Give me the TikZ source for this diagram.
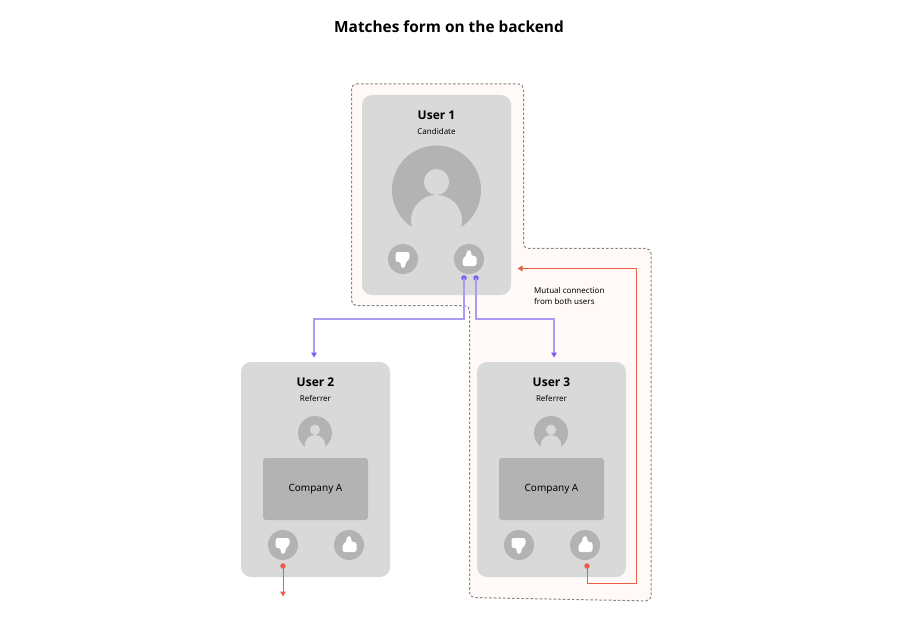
\documentclass[tikz,border=0pt]{standalone}
\usepackage{fontspec}
\setmainfont{Noto Sans}
\newfontfamily\semi{Open Sans}
\usetikzlibrary{arrows.meta}
\definecolor{cardc}{HTML}{D9D9D9}
\definecolor{darkc}{HTML}{B3B3B3}
\definecolor{bgc}{HTML}{FFFAF7}
\definecolor{dashc}{HTML}{8A8483}
\definecolor{purp}{HTML}{7B5CEE}
\definecolor{redc}{HTML}{E9604A}
\tikzset{
  x=1pt,y=-1pt,
  card/.style={draw=none,fill=cardc,rounded corners=10pt,minimum width=149pt,inner sep=0pt,outer sep=0pt},
  company/.style={fill=darkc,rounded corners=3pt,minimum width=105pt,minimum height=62pt,inner sep=0pt},
  companytext/.style={font=\fontsize{10}{12}\selectfont,inner sep=0pt},
  btn/.style={circle,fill=darkc,minimum size=30pt,inner sep=0pt},
  dotp/.style={circle,fill=purp,minimum size=5.5pt,inner sep=0pt},
  dotr/.style={circle,fill=redc,minimum size=5.5pt,inner sep=0pt},
  plink/.style={draw=purp!62,line width=1.4pt,-{Triangle[length=5pt,width=5.5pt,color=purp]}},
  rlink/.style={draw=redc,line width=1pt,-{Triangle[length=5pt,width=5.5pt]}},
  nametext/.style={font=\fontsize{12}{14}\selectfont\semi\bfseries,inner sep=0pt},
  roletext/.style={font=\fontsize{8}{9}\selectfont,inner sep=0pt},
  thumbshape/.pic={\fill[white,rounded corners=2.4pt] (-6.5,7) -- (-6.5,-0.5) -- (-3,-2.5) -- (-2,-8.8) -- (2.2,-8.8) -- (2.2,-3) -- (7.5,-3) -- (7.5,7) -- cycle;}
}
\newcommand{\avatar}[4]{% x, y, R, scale
  \begin{scope}
  \fill[darkc] (#1,#2) circle[radius=#3];
  \fill[cardc] (#1,#2-8*#4) ellipse[x radius=12.6*#4,y radius=13*#4];
  \fill[cardc] (#1,#2+30.5*#4) circle[radius=25.5*#4];
  \fill[cardc] (#1-25.5*#4,#2+37*#4) rectangle (#1+25.5*#4,#2+46*#4);
  \end{scope}}
\begin{document}
\begin{tikzpicture}
\useasboundingbox (0,0) rectangle (920,636);
\fill[white] (0,0) rectangle (920,636);
\draw[fill=bgc,draw=dashc,line width=1pt,dash pattern=on 2.6pt off 2pt,rounded corners=5pt]
  (351.5,84) -- (523.5,84) -- (523.5,248.5) -- (651,248.5) -- (651,601) -- (469.5,597.5) -- (469.5,305.5) -- (351.5,305.5) -- cycle;

\node[anchor=center,font=\fontsize{15.4}{18}\selectfont\semi\bfseries] (title) at (449,27) {Matches form on the backend};

% User 1
\node[card,minimum height=200pt] (card1) at (436.5,195) {};
\node[nametext] (n1) at (436.5,115) {User 1};
\node[roletext] (r1) at (436.5,131.5) {Candidate};
\avatar{436.5}{190}{44.5}{1}
\node[btn] (b1d) at (403,259) {};
\node[btn] (b1u) at (469,259) {};
\pic[rotate=180] at (b1d) {thumbshape};
\pic at (b1u) {thumbshape};

% User 2
\node[card,minimum height=215pt] (card2) at (315.5,469.5) {};
\node[nametext] (n2) at (315.5,382) {User 2};
\node[roletext] (r2) at (315.5,398.5) {Referrer};
\avatar{315}{433}{17}{0.4}
\node[company] (c2) at (315.5,489) {};
\node[companytext] (c2t) at (315.5,489) {Company A};
\node[btn] (b2d) at (283,545) {};
\node[btn] (b2u) at (349,545) {};
\pic[rotate=180] at (b2d) {thumbshape};
\pic at (b2u) {thumbshape};

% User 3
\node[card,minimum height=215pt] (card3) at (551.5,469.5) {};
\node[nametext] (n3) at (551.5,382) {User 3};
\node[roletext] (r3) at (551.5,398.5) {Referrer};
\avatar{551}{433}{17}{0.4}
\node[company] (c3) at (551.5,489) {};
\node[companytext] (c3t) at (551.5,489) {Company A};
\node[btn] (b3d) at (519,545) {};
\node[btn] (b3u) at (585,545) {};
\pic[rotate=180] at (b3d) {thumbshape};
\pic at (b3u) {thumbshape};

% Label
\node[anchor=west,font=\fontsize{8}{11}\selectfont,align=left,inner sep=0pt] (mutual) at (534,295.5) {Mutual connection\\from both users};

% Connectors
\node[dotp] (p1) at (464,278) {};
\node[dotp] (p2) at (476,278) {};
\coordinate (p1e) at (314,357.5);
\coordinate (p2e) at (554,357.5);
\coordinate (py) at (0,319);
\draw[plink] (p1.center) -- (p1 |- py) -- (p1e |- py) -- (p1e);
\draw[plink] (p2.center) -- (p2 |- py) -- (p2e |- py) -- (p2e);

\node[dotr] (r2d) at (283,566) {};
\coordinate (r2e) at (283,596.5);
\draw[rlink] (r2d.center) -- (r2e);

\node[dotr] (r3u) at (587,566) {};
\coordinate (r3e) at (517.5,268.5);
\coordinate (rc) at (636.5,583);
\draw[rlink] (r3u.center) -- (r3u |- rc) -- (rc) -- (rc |- r3e) -- (r3e);
\end{tikzpicture}
\end{document}
